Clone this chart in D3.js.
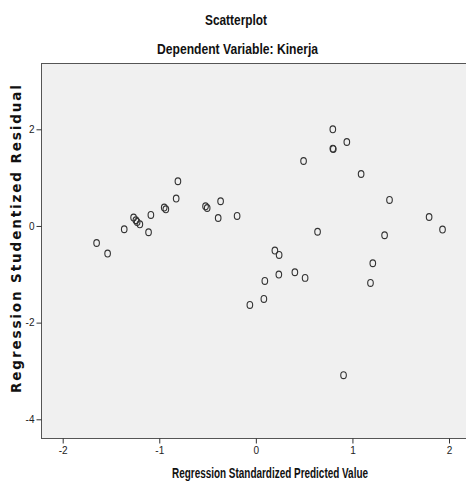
<!DOCTYPE html>
<meta charset="utf-8">
<style>
body { margin: 0; background: #fff; }
.tick text { font-family: "Liberation Sans Narrow", "Liberation Sans", Arial, sans-serif; font-size: 10px; fill: #222; }
.tick line { stroke: #333; }
</style>
<script src="https://d3js.org/d3.v7.min.js"></script>
<div id="chart"></div>
<script>
// regression standardized predicted value (x) and studentized residual (y)
var predicted = [-1.649, -1.535, -1.363, -1.266, -1.242, -1.229, -1.201, -1.111, -1.087, -0.949,
  -0.932, -0.825, -0.807, -0.521, -0.504, -0.365, -0.390, -0.194, 0.797, 0.942,
  0.797, 0.802, 0.494, 1.090, 1.384, 1.794, 1.933, 0.639, 1.333, 0.197,
  0.241, 1.211, 0.093, 0.238, 0.404, 0.510, 1.187, 0.083, -0.062, 0.908];
var residual = [-0.352, -0.571, -0.068, 0.174, 0.118, 0.083, 0.035, -0.130, 0.228, 0.381,
  0.345, 0.567, 0.925, 0.407, 0.372, 0.511, 0.165, 0.207, 2.000, 1.737,
  1.601, 1.590, 1.344, 1.075, 0.538, 0.186, -0.074, -0.120, -0.192, -0.509,
  -0.600, -0.771, -1.138, -1.005, -0.958, -1.075, -1.179, -1.510, -1.634, -3.088];
var xTicks = [-2, -1, 0, 1, 2];
var xTickLabels = ["-2", "-1", "0", "1", "2"];
var yTicks = [2, 0, -2, -4];
var yTickLabels = ["2", "0", "-2", "-4"];

var W = 466, H = 483;
var svg = d3.select("#chart").append("svg")
    .attr("width", W)
    .attr("height", H);

var x = d3.scaleLinear().domain([-2, 2]).range([62.7, 449]);
var y = d3.scaleLinear().domain([2, -4]).range([129.3, 419.3]);

var frame = {left: 41, top: 63, right: 470, bottom: 438};

svg.append("rect")
    .attr("x", frame.left + 0.5)
    .attr("y", frame.top + 0.5)
    .attr("width", frame.right - frame.left)
    .attr("height", frame.bottom - frame.top)
    .attr("fill", "#f0f0f0")
    .attr("stroke", "#555")
    .attr("stroke-width", 1);

var xAxis = svg.append("g")
    .attr("transform", "translate(0," + (frame.bottom + 0.5) + ")")
    .call(d3.axisBottom(x).tickValues(xTicks).tickSize(5).tickPadding(3)
      .tickFormat(function(d, i) { return xTickLabels[i]; }));
xAxis.select(".domain").remove();

var yAxis = svg.append("g")
    .attr("transform", "translate(" + (frame.left + 0.5) + ",0)")
    .call(d3.axisLeft(y).tickValues(yTicks).tickSize(5).tickPadding(2)
      .tickFormat(function(d, i) { return yTickLabels[i]; }));
yAxis.select(".domain").remove();

svg.selectAll("ellipse.pt")
    .data(d3.range(predicted.length))
  .enter().append("ellipse")
    .attr("class", "pt")
    .attr("cx", function(i) { return x(predicted[i]); })
    .attr("cy", function(i) { return y(residual[i]); })
    .attr("rx", 2.8)
    .attr("ry", 3.4)
    .attr("fill", "none")
    .attr("stroke", "#333")
    .attr("stroke-width", 1.1);

function title(txt, cx, cy, len, rotate) {
  var t = svg.append("text")
    .attr("text-anchor", "middle")
    .attr("dominant-baseline", "central")
    .style("font-family", '"Liberation Sans Narrow", "Liberation Sans", Arial, sans-serif')
    .style("font-weight", "bold")
    .style("font-size", "14px")
    .attr("fill", "#111")
    .attr("textLength", len)
    .attr("lengthAdjust", "spacingAndGlyphs")
    .text(txt);
  if (rotate) {
    t.attr("transform", "translate(" + cx + "," + cy + ") rotate(-90)");
  } else {
    t.attr("x", cx).attr("y", cy);
  }
  return t;
}

title("Scatterplot", 236, 20, 62);
title("Dependent Variable: Kinerja", 237.5, 48.5, 161);
title("Regression Standardized Predicted Value", 270, 473, 196);
title("Regression Studentized Residual", 15.5, 239, 308, true)
    .style("font-family", '"DejaVu Sans", Verdana, sans-serif')
    .style("font-size", "13.5px")
    .attr("lengthAdjust", "spacing");
</script>
